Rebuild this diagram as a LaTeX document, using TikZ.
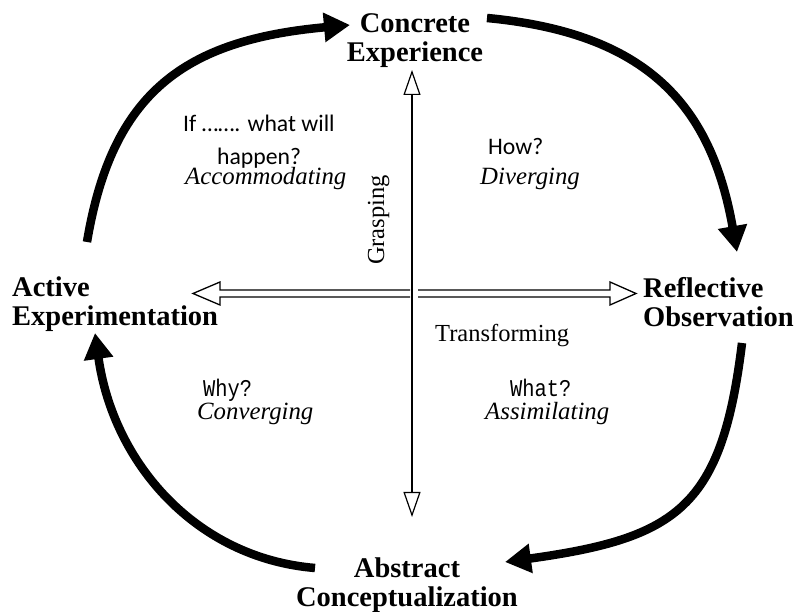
\documentclass[tikz,border=0pt]{standalone}
\usepackage{fontspec}
\setmainfont{Liberation Serif}
\newfontfamily\calibrifont{Carlito}
\newfontfamily\gothicfont[FakeStretch=0.85]{Liberation Mono}
\usetikzlibrary{arrows.meta}

\begin{document}
\begin{tikzpicture}[x=1pt, y=1pt,
  stage/.style={font=\bfseries\fontsize{28.5}{29}\selectfont, inner sep=0pt},
  kind/.style={font=\itshape\fontsize{24.8}{26}\selectfont, inner sep=0pt, anchor=base west},
  query/.style={font=\calibrifont\fontsize{23.7}{26}\selectfont, inner sep=0pt, anchor=base west},
  ask/.style={font=\gothicfont\fontsize{24}{26}\selectfont, inner sep=0pt, anchor=base west},
  axislabel/.style={font=\fontsize{24.5}{26}\selectfont, inner sep=0pt},
  flow/.style={line width=8.5pt, -{Triangle[length=26pt,width=28pt]}},
  grasp/.style={line width=1.2pt, {Triangle[open,length=25pt,width=17pt]}-{Triangle[open,length=25pt,width=17pt]}},
  hollow/.style={line width=1.3pt, fill=white, line join=miter}]

\useasboundingbox (0,0) rectangle (803,612);

\node (ce) at (415,599) [stage, anchor=north, align=center]{Concrete\\Experience};
\node (ro) at (643,335) [stage, anchor=north west, align=left]{Reflective\\Observation};
\node (ac) at (407,54) [stage, anchor=north, align=center]{Abstract\\Conceptualization};
\node (ae) at (12,335) [stage, anchor=north west, align=left]{Active\\Experimentation};

\coordinate (ae-out) at (87,370);
\coordinate (ce-in) at (350,587);
\coordinate (ce-out) at (487,594);
\coordinate (ro-in) at (737,360);
\coordinate (ro-out) at (742,269);
\coordinate (ac-in) at (505,50);
\coordinate (ac-out) at (315,44);
\coordinate (ae-in) at (95,279);

\draw[flow] (ae-out) .. controls (112,520) and (185,572) .. (ce-in);
\draw[flow] (ce-out) .. controls (646,579) and (711,508) .. (ro-in);
\draw[flow] (ro-out) .. controls (722,105) and (678,74) .. (ac-in);
\draw[flow] (ac-out) .. controls (195,54) and (113,150) .. (ae-in);

\coordinate (gtop) at (412,542);
\coordinate (gbot) at (412,95);
\draw[grasp] (gbot) -- (gtop);

\filldraw[hollow] (410,322) -- (220,322) -- (220,330) -- (193,318.5) -- (220,307) -- (220,315) -- (410,315);
\filldraw[hollow] (418,322) -- (610,322) -- (610,330) -- (636,318.5) -- (610,307) -- (610,315) -- (418,315);

\node (grasping) at (384,392) [axislabel, rotate=90, anchor=base]{Grasping};
\node (transforming) at (435,270) [axislabel, anchor=base west]{Transforming};

\node (accomq) at (183,480) [query]{If ……. what will};
\node (accomq2) at (217,447) [query]{happen?};
\node (accom) at (185,427) [kind]{Accommodating};
\node (divergq) at (488,457) [query]{How?};
\node (diverg) at (480,427) [kind]{Diverging};
\node (convergq) at (203,215) [ask]{Why?};
\node (converg) at (197,192) [kind]{Converging};
\node (assimq) at (510,215) [ask]{What?};
\node (assim) at (485,192) [kind]{Assimilating};

\end{tikzpicture}
\end{document}
